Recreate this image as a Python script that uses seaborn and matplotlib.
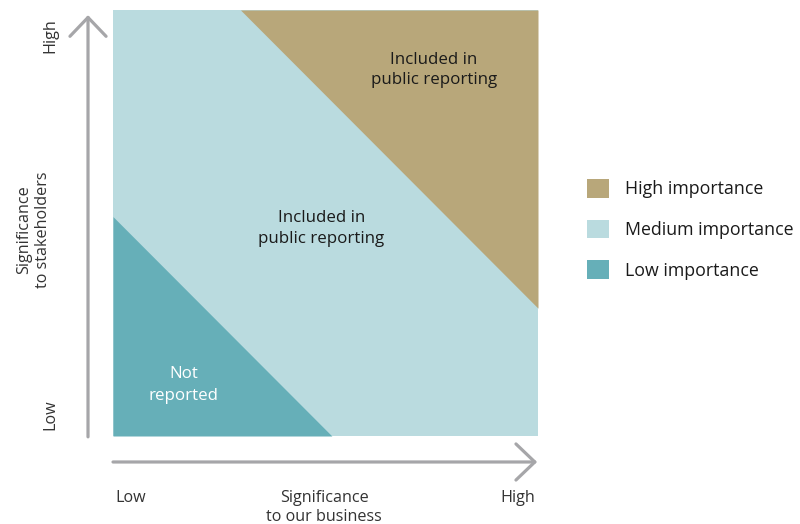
import numpy as np
import matplotlib.pyplot as plt
import seaborn as sns
from matplotlib.patches import Patch

# Dados da matriz de materialidade
niveis = ["High importance", "Medium importance", "Low importance"]
cores = ["#B8A77A", "#BADBDF", "#66AFB8"]
corte_baixo = 0.515   # x + y abaixo disso -> low
corte_alto = 1.30     # x + y acima disso -> high
rotulo_reporte = "Included in\npublic reporting"
rotulo_nao = "Not\nreported"
eixo_x = ["Low", "Significance\nto our business", "High"]
eixo_y = ["Low", "Significance\nto stakeholders", "High"]

sns.set_theme(style="white")
plt.rcParams['font.family'] = ['Open Sans', 'DejaVu Sans']

fig = plt.figure(figsize=(8, 5.24), dpi=100)
ax = fig.add_axes([113 / 800, 88 / 524, 425 / 800, 426 / 524])
ax.set_xlim(0, 1)
ax.set_ylim(0, 1)
ax.axis("off")

# Fundo: medium
ax.fill_between([0, 1], 0, 1, color=cores[1], lw=0)
# Low: triangulo inferior esquerdo
xb = np.linspace(0, corte_baixo, 50)
ax.fill_between(xb, 0, corte_baixo - xb, color=cores[2], lw=0)
# High: triangulo superior direito
xa = np.linspace(corte_alto - 1, 1, 50)
ax.fill_between(xa, corte_alto - xa, 1, color=cores[0], lw=0)

# Textos das regioes
fs_reg = 12.2
ax.text(0.755, 0.86, rotulo_reporte, ha="center", va="center", fontsize=fs_reg, color="#1a1a1a", linespacing=1.35)
ax.text(0.49, 0.487, rotulo_reporte, ha="center", va="center", fontsize=fs_reg, color="#1a1a1a", linespacing=1.35)
ax.text(0.167, 0.12, rotulo_nao, ha="center", va="center", fontsize=fs_reg, color="white", linespacing=1.45)

# Setas dos eixos
cinza = "#A6A6A9"
seta = dict(arrowstyle="->,head_length=0.68,head_width=0.65", lw=2.3, color=cinza,
            shrinkA=0, shrinkB=0, mutation_scale=20)
ax.annotate("", xy=(-0.0588, 0.988), xytext=(-0.0588, -0.002),
            xycoords="axes fraction", arrowprops=seta, annotation_clip=False)
ax.annotate("", xy=(0.998, -0.061), xytext=(0.0, -0.061),
            xycoords="axes fraction", arrowprops=seta, annotation_clip=False)

# Rotulos dos eixos
cor_txt = "#333333"
fs_eixo = 11.6
ax.text(0.042, -0.145, eixo_x[0], ha="center", va="center", fontsize=fs_eixo, color=cor_txt, clip_on=False)
ax.text(0.497, -0.168, eixo_x[1], ha="center", va="center", fontsize=fs_eixo, color=cor_txt, linespacing=1.3, clip_on=False)
ax.text(0.953, -0.145, eixo_x[2], ha="center", va="center", fontsize=fs_eixo, color=cor_txt, clip_on=False)
ax.text(-0.147, 0.05, eixo_y[0], ha="center", va="center", rotation=90, fontsize=fs_eixo, color=cor_txt, clip_on=False)
ax.text(-0.187, 0.485, eixo_y[1], ha="center", va="center", rotation=90, fontsize=fs_eixo, color=cor_txt, linespacing=1.3, clip_on=False)
ax.text(-0.147, 0.94, eixo_y[2], ha="center", va="center", rotation=90, fontsize=fs_eixo, color=cor_txt, clip_on=False)

# Legenda
handles = [Patch(facecolor=c, edgecolor="none", label=n) for c, n in zip(cores, niveis)]
fig.legend(handles=handles, loc="upper left", bbox_to_anchor=(587 / 800, 1 - 179 / 524),
           frameon=False, fontsize=12.8, handlelength=1.24, handleheight=1.24,
           handletextpad=0.9, labelspacing=1.2, borderpad=0, borderaxespad=0,
           labelcolor="#1a1a1a")

fig.savefig("out.png", dpi=100)
